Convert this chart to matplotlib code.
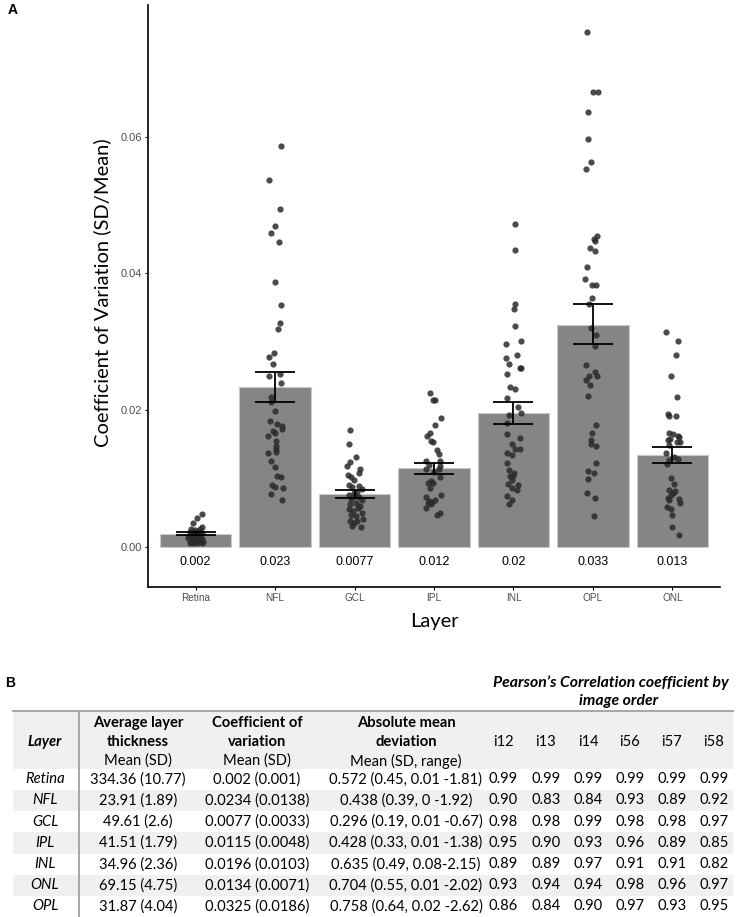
import matplotlib
matplotlib.use("Agg")
import matplotlib.pyplot as plt
from matplotlib.patches import Rectangle
from matplotlib.lines import Line2D
import numpy as np

# ---------------- data: panel A ----------------
layers = ['Retina', 'NFL', 'GCL', 'IPL', 'INL', 'OPL', 'ONL']
cv_mean = [0.00186, 0.0234, 0.00767, 0.01147, 0.0195, 0.0325, 0.01342]
err_low = [0.00167, 0.0212, 0.00717, 0.01068, 0.0179, 0.0296, 0.01225]
err_high = [0.0021, 0.0256, 0.00825, 0.01225, 0.02117, 0.03546, 0.01454]
mean_labels = ['0.002', '0.023', '0.0077', '0.012', '0.02', '0.033', '0.013']

retina_pts = [0.00483, 0.00415, 0.00342, 0.00293, 0.00263, 0.00263,
              0.00220, 0.00210, 0.00234, 0.00205, 0.00186, 0.00171, 0.00156, 0.00156,
              0.00137, 0.00122, 0.00108, 0.00117, 0.00088, 0.00083, 0.00059, 0.00049,
              0.00059, 0.00049, 0.00088, 0.00195, 0.00244, 0.00073, 0.00122, 0.00146,
              0.00073, 0.00108]
retina_jit = [0.076, 0.013, -0.03, 0.084, -0.063, 0.055,
              -0.076, -0.013, 0.042, 0.080, -0.042, 0.017, -0.084, 0.059,
              -0.021, -0.063, 0.084, 0.025, 0.0, 0.050, -0.076, -0.034,
              0.017, 0.076, -0.055, 0.038, -0.008, 0.092, -0.092, 0.008,
              -0.038, 0.063]

nfl_pts = [0.0586, 0.0537, 0.0494, 0.0470, 0.0459, 0.0446, 0.0387, 0.0354, 0.0328,
           0.0318, 0.0284, 0.0277, 0.0267, 0.0250, 0.0253, 0.0240, 0.0219, 0.0212,
           0.0198, 0.0184, 0.0179, 0.0176, 0.0172, 0.0169, 0.0166, 0.0162, 0.0154,
           0.0148, 0.0143, 0.0137, 0.0126, 0.0116, 0.0104, 0.0102, 0.0091, 0.0088,
           0.0086, 0.0077, 0.0068, 0.0139]
nfl_jit = [0.076, -0.071, 0.063, 0.004, -0.05, 0.055, 0.0, 0.076, 0.067,
           0.034, -0.008, -0.071, -0.025, -0.08, 0.063, 0.08, -0.05, -0.055,
           0.0, -0.067, 0.029, 0.088, 0.093, -0.03, 0.0, -0.092, 0.008,
           0.008, 0.017, -0.088, -0.05, 0.0, 0.025, 0.08, -0.038, 0.0,
           0.105, -0.046, 0.093, 0.012]

gcl_pts = [0.01707, 0.01498, 0.01317, 0.01235, 0.01181, 0.01137, 0.01083, 0.01049,
           0.0102, 0.00971, 0.00903, 0.00893, 0.00844, 0.0079, 0.00752, 0.00723,
           0.00703, 0.00683, 0.00644, 0.0062, 0.006, 0.00566, 0.00547, 0.00518,
           0.00497, 0.00463, 0.00449, 0.0041, 0.00376, 0.00371, 0.00342, 0.00303,
           0.00293, 0.00805, 0.00878, 0.00742]
gcl_jit = [-0.063, -0.071, 0.013, -0.055, -0.092, 0.071, 0.059, -0.088,
           -0.042, -0.008, -0.071, 0.055, 0.088, -0.013, -0.071, 0.05,
           -0.042, 0.092, 0.017, -0.059, 0.067, 0.042, -0.071, -0.017,
           0.088, -0.046, 0.013, 0.105, -0.063, 0.034, -0.004, -0.038,
           0.076, 0.025, -0.034, 0.008]

ipl_pts = [0.02244, 0.02151, 0.02151, 0.01878, 0.01785, 0.01668, 0.0162, 0.01551,
           0.01532, 0.01415, 0.01361, 0.01249, 0.01249, 0.01195, 0.01181, 0.01141,
           0.01132, 0.01093, 0.01015, 0.00966, 0.00927, 0.00927, 0.00859, 0.00756,
           0.00723, 0.00673, 0.00683, 0.00635, 0.00625, 0.00658, 0.00562, 0.00464,
           0.00489]
ipl_jit = [-0.046, -0.013, 0.017, 0.092, 0.017, -0.05, -0.088, -0.038,
           -0.017, 0.038, 0.063, -0.097, 0.071, -0.067, 0.08, -0.1,
           0.067, 0.0, 0.071, -0.038, -0.08, -0.013, -0.046, 0.092,
           -0.1, -0.067, 0.017, -0.08, -0.042, -0.021, -0.097, 0.034,
           0.08]

inl_pts = [0.04717, 0.04341, 0.03555, 0.03482, 0.03224, 0.02961, 0.03014, 0.02765,
           0.028, 0.02673, 0.0261, 0.0261, 0.02527, 0.02341, 0.02307, 0.02175,
           0.02048, 0.0196, 0.01931, 0.0181, 0.01644, 0.0159, 0.01507, 0.01375,
           0.01342, 0.01425, 0.01434, 0.0122, 0.01127, 0.01078, 0.01034, 0.01034,
           0.00976, 0.00922, 0.00907, 0.00859, 0.00825, 0.00742, 0.00683, 0.00625]
inl_jit = [0.025, 0.017, 0.021, 0.013, 0.025, -0.088, 0.097, -0.088,
           0.042, -0.05, 0.088, 0.097, -0.084, -0.046, 0.025, -0.076,
           0.055, 0.097, -0.059, -0.076, -0.076, 0.08, -0.021, -0.076,
           -0.021, 0.025, 0.084, -0.084, -0.05, 0.013, -0.042, 0.0,
           -0.017, -0.071, 0.059, -0.013, 0.046, -0.08, -0.017, -0.059]

opl_pts = [0.07534, 0.06652, 0.06662, 0.06364, 0.05965, 0.05628, 0.0553, 0.0455,
           0.04506, 0.04468, 0.04366, 0.04326, 0.04096, 0.03921, 0.03824, 0.03833,
           0.03643, 0.03546, 0.03195, 0.03093, 0.02936, 0.02654, 0.0256, 0.02502,
           0.02497, 0.02434, 0.02366, 0.02209, 0.0178, 0.01668, 0.01561, 0.01502,
           0.01478, 0.01229, 0.01112, 0.01074, 0.0099, 0.00781, 0.00708, 0.00454]
opl_jit = [-0.076, 0.004, 0.067, -0.067, -0.059, -0.021, -0.092, 0.046,
           0.013, 0.029, -0.034, 0.021, -0.08, -0.105, -0.013, 0.038,
           -0.017, -0.046, -0.025, 0.034, 0.025, -0.088, 0.021, 0.055,
           -0.05, -0.092, -0.034, -0.067, 0.042, -0.017, -0.025, -0.029,
           0.042, 0.034, -0.063, 0.017, -0.067, -0.076, 0.029, 0.008]

onl_pts = [0.03141, 0.03009, 0.02809, 0.02502, 0.0219, 0.01937, 0.01912, 0.01912,
           0.01663, 0.01644, 0.01624, 0.0161, 0.01576, 0.01556, 0.01536, 0.01532,
           0.01483, 0.01366, 0.01317, 0.01287, 0.01268, 0.0121, 0.01005, 0.00913,
           0.00834, 0.00819, 0.0079, 0.00752, 0.00717, 0.00703, 0.00679, 0.00644,
           0.00585, 0.00556, 0.00464, 0.00288, 0.00171]
onl_jit = [-0.076, 0.067, 0.046, -0.017, 0.055, -0.055, -0.046, 0.046,
           -0.046, 0.004, 0.067, 0.08, -0.025, -0.055, 0.063, 0.092,
           -0.038, -0.084, 0.025, 0.071, -0.042, -0.071, -0.021, 0.021,
           -0.038, 0.038, 0.008, -0.013, -0.055, 0.08, -0.038, 0.092,
           -0.063, -0.021, 0.0, -0.004, 0.088]

points = [retina_pts, nfl_pts, gcl_pts, ipl_pts, inl_pts, opl_pts, onl_pts]
jitters = [retina_jit, nfl_jit, gcl_jit, ipl_jit, inl_jit, opl_jit, onl_jit]

# ---------------- data: panel B ----------------
tbl_layers = ['Retina', 'NFL', 'GCL', 'IPL', 'INL', 'ONL', 'OPL']
tbl_thickness = ['334.36 (10.77)', '23.91 (1.89)', '49.61 (2.6)', '41.51 (1.79)',
                 '34.96 (2.36)', '69.15 (4.75)', '31.87 (4.04)']
tbl_cv = ['0.002 (0.001)', '0.0234 (0.0138)', '0.0077 (0.0033)', '0.0115 (0.0048)',
          '0.0196 (0.0103)', '0.0134 (0.0071)', '0.0325 (0.0186)']
tbl_amd = ['0.572 (0.45, 0.01 -1.81)', '0.438 (0.39, 0 -1.92)', '0.296 (0.19, 0.01 -0.67)',
           '0.428 (0.33, 0.01 -1.38)', '0.635 (0.49, 0.08-2.15)', '0.704 (0.55, 0.01 -2.02)',
           '0.758 (0.64, 0.02 -2.62)']
corr_cols = ['i12', 'i13', 'i14', 'i56', 'i57', 'i58']
corr_i12 = ['0.99', '0.90', '0.98', '0.95', '0.89', '0.93', '0.86']
corr_i13 = ['0.99', '0.83', '0.98', '0.90', '0.89', '0.94', '0.84']
corr_i14 = ['0.99', '0.84', '0.99', '0.93', '0.97', '0.94', '0.90']
corr_i56 = ['0.99', '0.93', '0.98', '0.96', '0.91', '0.98', '0.97']
corr_i57 = ['0.99', '0.89', '0.98', '0.89', '0.91', '0.96', '0.93']
corr_i58 = ['0.99', '0.92', '0.97', '0.85', '0.82', '0.97', '0.95']
corr_vals = [corr_i12, corr_i13, corr_i14, corr_i56, corr_i57, corr_i58]

# ---------------- figure ----------------
W, H = 736, 917
fig = plt.figure(figsize=(W / 100, H / 100), dpi=100)

def fx(x):
    return x / W

def fy(y):
    return 1 - y / H

# Panel A axes
ax_l, ax_r, ax_t, ax_b = 148, 720, 5, 587
ax = fig.add_axes([fx(ax_l), fy(ax_b), (ax_r - ax_l) / W, (ax_b - ax_t) / H])
x = np.arange(len(layers))
ax.bar(x, cv_mean, width=0.9, color='#858585', edgecolor='#c9c9c9', linewidth=0.8, zorder=1)
for i in range(len(layers)):
    px = i + np.array(jitters[i])
    ax.scatter(px, points[i], s=20, color='#2b2b2b', alpha=0.85, linewidths=0, zorder=3)
yerr = [np.array(cv_mean) - np.array(err_low), np.array(err_high) - np.array(cv_mean)]
ax.errorbar(x, cv_mean, yerr=yerr, fmt='none', ecolor='black', elinewidth=1.3,
            capsize=14.4, capthick=1.3, zorder=4)
for i, lab in enumerate(mean_labels):
    ax.text(i, -0.0022, lab, ha='center', va='center', fontsize=9,
            family='Liberation Sans', color='black')

ax.set_xlim(-0.6, 6.6)
ax.set_ylim(-0.0059, 0.0793)
ax.set_yticks([0.0, 0.02, 0.04, 0.06])
ax.set_yticklabels(['0.00', '0.02', '0.04', '0.06'])
ax.set_xticks(x)
ax.set_xticklabels(layers)
for s in ['top', 'right']:
    ax.spines[s].set_visible(False)
for s in ['left', 'bottom']:
    ax.spines[s].set_linewidth(1.2)
    ax.spines[s].set_color('black')
ax.tick_params(axis='y', length=2.5, width=0.8, pad=1.5, labelsize=8, labelcolor='#4d4d4d')
ax.tick_params(axis='x', length=2.5, width=0.8, pad=2, labelsize=7.2, labelcolor='#4d4d4d')
for lab in ax.get_xticklabels() + ax.get_yticklabels():
    lab.set_family('Liberation Sans')

fig.text(fx(102), fy(293), 'Coefficient of Variation (SD/Mean)', rotation=90,
         ha='center', va='center', fontsize=14.5, family='Lato')
fig.text(fx(434), fy(621), 'Layer', ha='center', va='center', fontsize=14.5, family='Lato')
fig.text(fx(8), fy(10), 'A', ha='left', va='center', fontsize=10, weight='bold',
         family='Liberation Sans')
fig.text(fx(5), fy(683), 'B', ha='left', va='center', fontsize=10, weight='bold',
         family='Liberation Sans')

# ---------------- Panel B table ----------------
shade = '#f0f0f0'
line_col = '#a6a6a6'
tbl_left, tbl_right = 13, 733
top_line = 711
row_y0 = 779.3
row_h = 21.2

# header shading
fig.patches.append(Rectangle((fx(tbl_left), fy(row_y0 - row_h / 2)), (tbl_right - tbl_left) / W,
                             (row_y0 - row_h / 2 - top_line) / H, transform=fig.transFigure,
                             facecolor=shade, edgecolor='none', zorder=0))
# alternating row shading
for r in range(len(tbl_layers)):
    if r % 2 == 1:
        yc = row_y0 + r * row_h
        fig.patches.append(Rectangle((fx(tbl_left), fy(yc + row_h / 2)),
                                     (tbl_right - tbl_left) / W, row_h / H,
                                     transform=fig.transFigure, facecolor=shade,
                                     edgecolor='none', zorder=0))
fig.lines.append(Line2D([fx(tbl_left), fx(tbl_right)], [fy(top_line), fy(top_line)],
                        transform=fig.transFigure, color=line_col, linewidth=1.4))
fig.lines.append(Line2D([fx(79), fx(79)], [fy(top_line), fy(917)],
                        transform=fig.transFigure, color=line_col, linewidth=1.4))

tf = 'Lato'
fs = 10.6
fig.text(fx(611), fy(683), 'Pearson\u2019s Correlation coefficient by', ha='center', va='center',
         fontsize=11.3, weight='bold', style='italic', family=tf)
fig.text(fx(619), fy(701), 'image order', ha='center', va='center',
         fontsize=11.3, weight='bold', style='italic', family=tf)

col_x = [45, 138, 257, 406]
corr_x = [503, 546, 588, 630, 672, 714]
h1, h2, h3 = 723.3, 742.3, 761
fig.text(fx(col_x[0]), fy(h2), 'Layer', ha='center', va='center', fontsize=fs,
         weight='bold', style='italic', family=tf)
fig.text(fx(col_x[1]), fy(h1), 'Average layer', ha='center', va='center', fontsize=fs,
         weight='bold', family=tf)
fig.text(fx(col_x[1]), fy(h2), 'thickness', ha='center', va='center', fontsize=fs,
         weight='bold', family=tf)
fig.text(fx(col_x[1]), fy(h3), 'Mean (SD)', ha='center', va='center', fontsize=fs, family=tf)
fig.text(fx(col_x[2]), fy(h1), 'Coefficient of', ha='center', va='center', fontsize=fs,
         weight='bold', family=tf)
fig.text(fx(col_x[2]), fy(h2), 'variation', ha='center', va='center', fontsize=fs,
         weight='bold', family=tf)
fig.text(fx(col_x[2]), fy(h3), 'Mean (SD)', ha='center', va='center', fontsize=fs, family=tf)
fig.text(fx(col_x[3]), fy(h1), 'Absolute mean', ha='center', va='center', fontsize=fs,
         weight='bold', family=tf)
fig.text(fx(col_x[3]), fy(h2), 'deviation', ha='center', va='center', fontsize=fs,
         weight='bold', family=tf)
fig.text(fx(col_x[3]), fy(h3), 'Mean (SD, range)', ha='center', va='center', fontsize=fs,
         family=tf)
for j, c in enumerate(corr_cols):
    fig.text(fx(corr_x[j]), fy(h2), c, ha='center', va='center', fontsize=fs, family=tf)

for r in range(len(tbl_layers)):
    yc = row_y0 + r * row_h
    fig.text(fx(col_x[0]), fy(yc), tbl_layers[r], ha='center', va='center', fontsize=fs,
             style='italic', family=tf)
    fig.text(fx(col_x[1]), fy(yc), tbl_thickness[r], ha='center', va='center', fontsize=fs,
             family=tf)
    fig.text(fx(col_x[2]), fy(yc), tbl_cv[r], ha='center', va='center', fontsize=fs,
             family=tf)
    fig.text(fx(col_x[3]), fy(yc), tbl_amd[r], ha='center', va='center', fontsize=fs,
             family=tf)
    for j in range(len(corr_cols)):
        fig.text(fx(corr_x[j]), fy(yc), corr_vals[j][r], ha='center', va='center',
                 fontsize=fs, family=tf)

fig.savefig('out.png', dpi=100)
